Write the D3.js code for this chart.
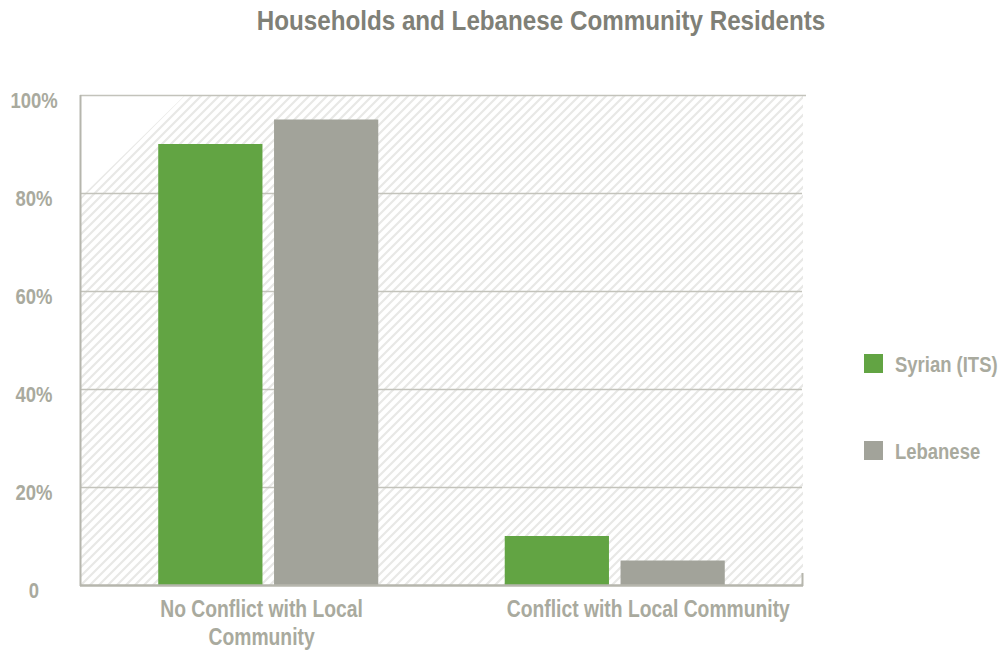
<!DOCTYPE html>
<html><head><meta charset="utf-8">
<script src="https://cdn.jsdelivr.net/npm/d3@7"></script>
<style>
html,body{margin:0;padding:0;background:#fff;}
svg text{font-family:"Liberation Sans",Arial,sans-serif;font-weight:bold;}
</style></head>
<body>
<svg id="c" width="1003" height="650"></svg>
<script>
const title = "Households and Lebanese Community Residents";
const categories = ["No Conflict with Local Community", "Conflict with Local Community"];
const categoryLines = [["No Conflict with Local", "Community"], ["Conflict with Local Community"]];
const seriesNames = ["Syrian (ITS)", "Lebanese"];
const syrianValues = [90, 10];
const lebaneseValues = [95, 5];
const yTicks = [0, 20, 40, 60, 80, 100];
const yTickLabels = ["0", "20%", "40%", "60%", "80%", "100%"];
const colors = ["#62a443", "#a2a39a"];

const SX = 0.84; // horizontal condensing of the font
const svg = d3.select("#c");
const L = 80, R = 802, T = 95, B = 585;
const y = d3.scaleLinear().domain([0, 100]).range([B, T]);
const x0 = d3.scaleBand().domain(categories).range([95, 788]).paddingInner(0.365).paddingOuter(0.1825);
const x1 = d3.scaleBand().domain(seriesNames).range([0, x0.bandwidth()]).paddingInner(0.1);
const seriesVals = [syrianValues, lebaneseValues];

function ctext(parent, x, yy, str, size, fill, anchor, sx) {
  return parent.append("text")
    .attr("transform", `translate(${x},${yy}) scale(${sx || SX},1)`)
    .attr("text-anchor", anchor || "start")
    .attr("font-size", size).attr("fill", fill).text(str);
}

// hatch pattern
const defs = svg.append("defs");
const pat = defs.append("pattern").attr("id","hatch").attr("patternUnits","userSpaceOnUse")
  .attr("width",9).attr("height",9);
pat.append("path").attr("d","M-2,2 L2,-2 M0,9 L9,0 M7,11 L11,7").attr("stroke","#e8e8e6").attr("stroke-width",2.2);
svg.append("path")
  .attr("d", `M${L},${B} L${L},${y(79)} L${L+105},${T} L${R+1},${T} L${R+1},${B} Z`)
  .attr("fill","url(#hatch)");

// gridlines
svg.append("g").selectAll("line").data(yTicks.filter(d=>d>0)).join("line")
  .attr("x1", L).attr("x2", d => d===100 ? R+4 : R)
  .attr("y1", d=>y(d)+0.5).attr("y2", d=>y(d)+0.5)
  .attr("stroke","#c3c3bb").attr("stroke-width",1.5);

// bars
const g = svg.append("g");
categories.forEach((c, ci) => {
  seriesNames.forEach((s, si) => {
    g.append("rect")
      .attr("x", x0(c) + x1(s))
      .attr("y", y(seriesVals[si][ci]))
      .attr("width", x1.bandwidth())
      .attr("height", B - y(seriesVals[si][ci]))
      .attr("fill", colors[si]);
  });
});

// axes
const axisColor = "#b6b6ad";
svg.append("line").attr("x1",L+0.5).attr("x2",L+0.5).attr("y1",T).attr("y2",B+1).attr("stroke",axisColor).attr("stroke-width",2);
svg.append("line").attr("x1",L).attr("x2",R+1).attr("y1",B+0.5).attr("y2",B+0.5).attr("stroke",axisColor).attr("stroke-width",2.5);
svg.append("line").attr("x1",R+0.5).attr("x2",R+0.5).attr("y1",B-12).attr("y2",B+1).attr("stroke",axisColor).attr("stroke-width",2);

const labelColor = "#a9aa9e";
// y labels
const yl = svg.append("g");
yTicks.forEach((d, i) => ctext(yl, 34, y(d) + 13, yTickLabels[i], 22, labelColor, "middle"));

// x labels
categories.forEach((c, ci) => {
  const lines = categoryLines[ci];
  const tg = svg.append("g");
  const texts = lines.map((ln, li) => ctext(tg, 0, 617 + li*28, ln, 23, labelColor, "middle"));
  const w = d3.max(texts, t => t.node().getComputedTextLength()) * SX;
  texts.forEach((t, li) => t.attr("transform", `translate(${x0(c) + 2 + w/2},${617 + li*28}) scale(${SX},1)`));
});

// title
ctext(svg, 541, 30, title, 27.5, "#7f8077", "middle", 0.88);

// legend
seriesNames.forEach((s, i) => {
  const ly = 354 + i*87;
  svg.append("rect").attr("x",864).attr("y",ly).attr("width",19).attr("height",19).attr("fill",colors[i]);
  ctext(svg, 895, ly + 18, s, 22, labelColor, "start");
});
</script>
</body></html>
